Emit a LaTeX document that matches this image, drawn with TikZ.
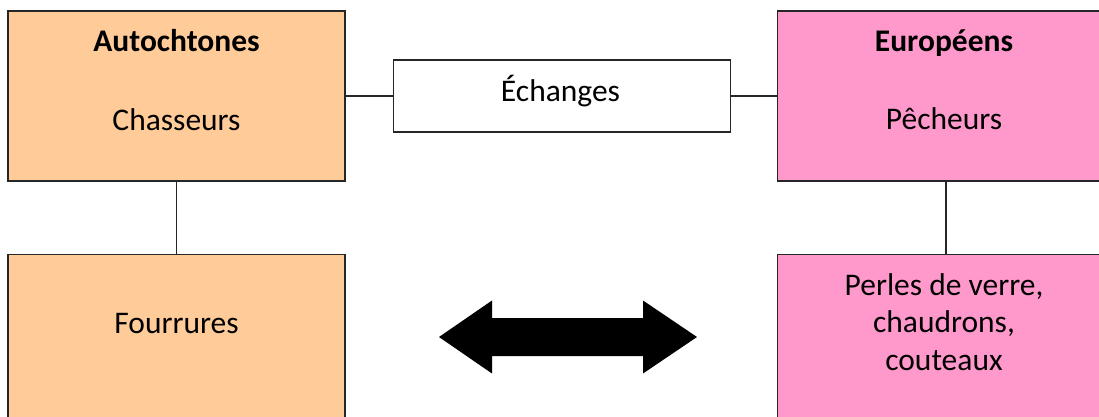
\documentclass[tikz,border=0pt]{standalone}
\usepackage{fontspec}
\setmainfont{Carlito}
\usetikzlibrary{positioning}
\definecolor{peche}{HTML}{FFCC99}
\definecolor{rose}{HTML}{FF99CC}

\begin{document}
\begin{tikzpicture}[x=1pt,y=-1pt,
  boite/.style={draw=black!85,line width=1.4pt,minimum width=337pt,minimum height=170pt,inner sep=0pt},
  mot/.style={anchor=base,inner sep=0pt,font=\fontsize{31.5}{37.5}\selectfont,align=center},
  lien/.style={draw=black!85,line width=1.4pt}]

\clip (0,0) rectangle (1099,417);

\node[boite,fill=peche] (auto) at (176.5,96) {};
\node[boite,fill=peche,below=72pt of auto] (four) {};
\node[boite,fill=rose,right=431pt of auto] (euro) {};
\node[boite,fill=rose,below=72pt of euro] (perles) {};
\node[boite,fill=white,minimum height=72pt,right=47pt of auto] (ech) {};

\draw[lien] (auto.east) -- (ech.west);
\draw[lien] (ech.east) -- (euro.west);
\draw[lien] (auto.south) -- (four.north);
\draw[lien] (euro.south) -- (perles.north);

\node[mot] (auto-titre) at (176.5,52) {\bfseries Autochtones};
\node[mot] (auto-texte) at (176.5,130.5) {Chasseurs};
\node[mot] (ech-texte) at (560.5,102) {Échanges};
\node[mot] (euro-titre) at (944,52) {\bfseries Européens};
\node[mot] (euro-texte) at (944,129.5) {Pêcheurs};
\node[mot] (four-texte) at (176.5,333) {Fourrures};
% base = derniere ligne
\node[mot] (perles-texte) at (944,370) {Perles de verre,\\chaudrons,\\couteaux};

% grosse fleche
\fill (439,337) -- (492,300.5) -- (492,318) -- (643,318) -- (643,300.5) -- (697,337)
  -- (643,373.5) -- (643,356) -- (492,356) -- (492,373.5) -- cycle;
\end{tikzpicture}
\end{document}
